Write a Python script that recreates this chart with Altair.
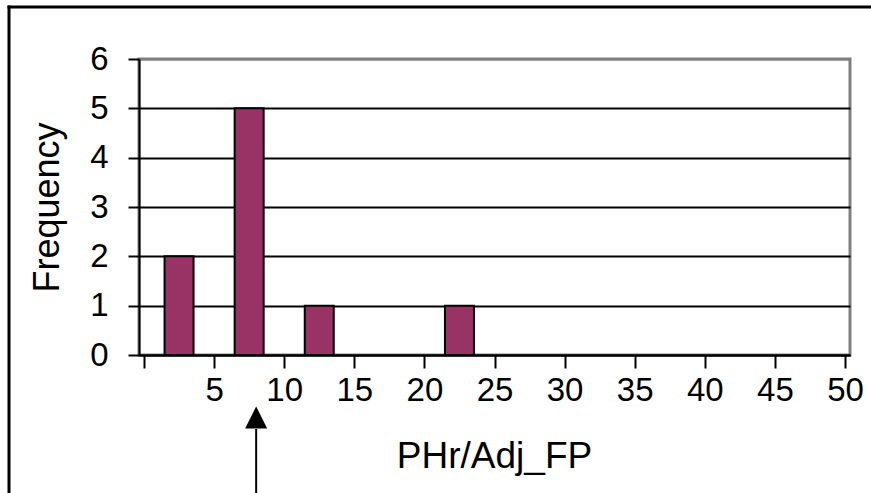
import altair as alt
import pandas as pd

# Histogram data (bin upper limits and frequencies)
bin_upper = [5, 10, 15, 20, 25, 30, 35, 40, 45, 50]
frequency = [2, 5, 1, 0, 1, 0, 0, 0, 0, 0]
x_ticks = [0, 5, 10, 15, 20, 25, 30, 35, 40, 45, 50]
y_ticks = [0, 1, 2, 3, 4, 5, 6]
marker_value = [8]

FONT = "Liberation Sans"

df = pd.DataFrame({"upper": bin_upper, "freq": frequency})
df = df[df["freq"] > 0]

xscale = alt.Scale(domain=[0, 50], nice=False, zero=False)
yscale = alt.Scale(domain=[0, 6], nice=False)

bars = alt.Chart(df).transform_calculate(
    mid="datum.upper - 2.5"
).mark_bar(size=29, color="#993366", stroke="black", strokeWidth=2).encode(
    x=alt.X("mid:Q", scale=xscale, axis=alt.Axis(
        values=x_ticks, title="PHr/Adj_FP", grid=False,
        labelExpr="datum.value == 0 ? '' : datum.label",
        domainColor="black", domainWidth=2,
        tickColor="black", tickWidth=2, tickSize=13,
        labelFont=FONT, labelFontSize=33, labelColor="black", labelPadding=6,
        labelBaseline="top",
        titleFont=FONT, titleFontSize=37, titleFontWeight="normal", titleColor="black",
        titleX=355, titleY=112, titleBaseline="alphabetic", titleAnchor="middle")),
    y=alt.Y("freq:Q", scale=yscale, axis=alt.Axis(
        values=y_ticks, title="Frequency", grid=True,
        gridColor={"condition": {"test": "datum.value >= 6", "value": "#808080"}, "value": "black"},
        gridWidth=2,
        domainColor="black", domainWidth=2,
        tickColor="black", tickWidth=2, tickSize=11,
        labelFont=FONT, labelFontSize=33, labelColor="black", labelPadding=20,
        titleFont=FONT, titleFontSize=36, titleFontWeight="normal", titleColor="black",
        titleX=-92, titleY=148, titleAngle=-90, titleBaseline="middle", titleAnchor="middle")),
)

marker_df = pd.DataFrame({"v": marker_value})
arrow_line = alt.Chart(marker_df).mark_rule(color="black", strokeWidth=2).encode(
    x=alt.X("v:Q", scale=xscale), y=alt.value(370), y2=alt.value(440))
arrow_head = alt.Chart(marker_df).mark_point(
    shape="M0,-1L-1,1L1,1Z", size=484, filled=True, color="black", opacity=1).encode(
    x=alt.X("v:Q", scale=xscale), y=alt.value(358.5))

one = alt.Data(values=[{}])
frame_left = alt.Chart(one).mark_rule(color="black", strokeWidth=3).encode(
    x=alt.value(-130), y=alt.value(-53.5), y2=alt.value(440))
frame_top = alt.Chart(one).mark_rule(color="black", strokeWidth=3).encode(
    x=alt.value(-131.5), x2=alt.value(740), y=alt.value(-52))

chart = alt.layer(bars, arrow_line, arrow_head, frame_left, frame_top).properties(
    width=711, height=296,
    padding={"left": 139, "top": 59, "right": 21, "bottom": 138},
    autosize=alt.AutoSizeParams(type="none"),
    background="white",
).configure_view(stroke="#808080", strokeWidth=3)

chart.save("out.html", embed_options={"renderer": "svg", "actions": False})
